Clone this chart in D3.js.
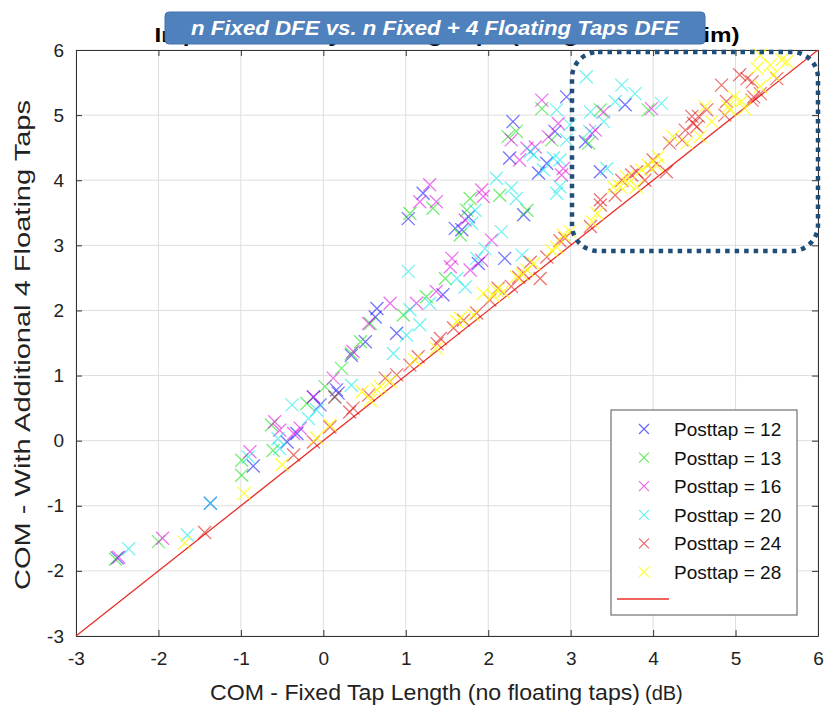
<!DOCTYPE html>
<html>
<head>
<meta charset="utf-8">
<script src="https://cdn.jsdelivr.net/npm/d3@7"></script>
<style>
  body { margin: 0; background: #fff; }
  svg text { font-family: "Liberation Sans", Arial, sans-serif; }
</style>
</head>
<body>
<div id="chart"></div>
<script>
// values: [COM fixed, COM with floating taps]
var posttap12 = [[-2.5,-1.8],[-1.37,-0.96],[-0.85,-0.39],[-0.44,-0.02],[-0.32,0.11],[-0.04,0.55],[0.16,0.78],[0.18,0.73],
  [0.34,1.31],[0.51,1.52],[0.63,1.9],[0.89,1.65],[1.03,3.41],[1.21,3.8],[1.45,2.24],[1.68,3.24],[1.76,3.44],[1.88,2.72],
  [2.2,2.8],[2.26,4.34],[2.3,4.9],[2.43,3.47],[2.61,4.11],[2.71,4.26],[2.81,4.75],[2.95,5.28],[3.18,4.59],[3.36,4.13],
  [3.66,5.16],[-0.12,0.67],[0.65,2.03],[1.6,3.26]];
var posttap13 = [[-2.52,-1.82],[-2.0,-1.55],[-0.99,-0.53],[-0.99,-0.3],[-0.61,-0.15],[-0.63,0.24],[0.02,0.83],[0.22,1.11],
  [0.45,1.52],[0.57,1.8],[0.97,1.93],[1.05,3.49],[1.33,3.57],[1.25,2.21],[1.48,2.49],[1.66,3.16],[1.78,3.72],[1.74,3.54],
  [2.14,3.77],[2.24,4.67],[2.34,4.75],[2.47,3.54],[2.65,5.1],[2.77,4.62],[3.22,4.57],[3.36,5.08],[3.94,5.08],[0.34,1.34],[-0.2,0.57]];
var posttap16 = [[-2.48,-1.79],[-1.95,-1.5],[-0.89,-0.17],[-0.59,0.29],[-0.53,0.16],[-0.28,0.19],[-0.36,0.11],[-0.12,0.67],
  [0.12,0.96],[0.36,1.37],[0.55,1.8],[0.81,2.11],[1.17,3.67],[1.29,3.93],[1.37,3.67],[1.13,2.11],[1.37,2.29],[1.54,2.67],
  [1.56,2.8],[1.72,3.39],[1.92,3.85],[1.94,3.75],[1.92,2.77],[2.04,3.08],[1.78,2.62],[2.28,4.62],[2.38,4.31],[2.47,4.49],
  [2.57,4.51],[2.65,5.23],[2.85,4.87],[2.89,4.08],[3.3,4.77],[3.26,4.72],[3.98,5.1],[3.4,5.05],[2.73,4.67],[2.91,4.18]];
var posttap20 = [[-2.36,-1.66],[-1.65,-1.45],[-1.37,-0.96],[-0.91,-0.25],[-0.55,0.03],[-0.53,-0.12],[-0.38,0.55],[-0.18,0.34],
  [-0.08,0.47],[0.34,0.85],[0.14,0.67],[0.85,1.34],[1.01,1.62],[1.17,1.78],[1.03,2.6],[1.05,2.01],[1.29,2.11],[1.62,2.49],
  [1.72,2.36],[1.86,2.8],[1.96,2.95],[1.8,3.34],[1.84,3.54],[2.16,3.21],[2.41,2.85],[2.1,4.03],[2.28,3.88],[2.34,3.72],
  [2.51,4.44],[2.55,4.39],[2.67,4.16],[2.79,4.34],[2.87,4.31],[2.83,5.08],[2.99,4.85],[2.95,4.62],[3.19,5.59],[3.62,5.46],
  [3.78,5.33],[3.54,5.21],[3.24,5.05],[3.4,4.9],[3.44,4.18],[4.1,5.18],[3.23,4.75],[2.83,3.8],[2.87,3.9]];
var posttap24 = [[-1.44,-1.41],[-0.36,-0.22],[-0.12,-0.02],[0.08,0.21],[0.14,0.67],[0.32,0.44],[0.55,0.7],[0.36,0.5],
  [0.75,0.96],[0.89,1.01],[1.05,1.16],[1.15,1.29],[1.38,1.49],[1.42,1.57],[1.58,1.73],[1.7,1.85],[1.86,1.96],[2.02,2.16],
  [2.12,2.34],[2.28,2.37],[2.37,2.51],[2.43,2.57],[2.63,2.49],[2.51,2.74],[2.71,2.82],[2.87,3.07],[2.93,3.11],[3.24,3.29],
  [3.36,3.7],[3.36,3.62],[3.54,3.77],[3.62,4.0],[3.74,4.08],[3.8,4.13],[3.9,4.0],[3.98,4.18],[4.0,4.31],[4.16,4.13],
  [4.2,4.57],[4.35,4.62],[4.39,4.77],[4.47,4.98],[4.49,4.87],[4.53,4.82],[4.55,4.98],[4.65,5.08],[4.83,5.46],[4.87,5.0],
  [4.89,5.21],[5.05,5.62],[5.14,5.56],[5.2,5.51],[5.2,5.23],[5.22,5.28],[5.3,5.33],[5.5,5.56]];
var posttap28 = [[-1.68,-1.57],[-0.96,-0.81],[-0.5,-0.37],[-0.08,0.04],[0.08,0.24],[0.47,0.75],[0.65,0.78],[0.57,0.62],
  [0.81,0.91],[0.69,0.83],[1.11,1.24],[1.37,1.42],[1.62,1.83],[1.66,1.88],[1.82,1.93],[1.94,2.26],[2.06,2.23],[2.1,2.31],
  [2.18,2.29],[2.34,2.52],[2.41,2.55],[2.47,2.62],[2.55,2.72],[2.77,2.92],[2.83,2.97],[2.91,3.16],[2.99,3.21],[3.26,3.36],
  [3.32,3.49],[3.52,3.9],[3.6,3.9],[3.68,4.05],[3.7,3.95],[3.8,3.9],[3.86,4.16],[3.94,4.23],[4.04,4.23],[4.06,4.36],
  [4.24,4.67],[4.41,4.57],[4.57,4.67],[4.63,5.13],[4.71,4.9],[4.91,5.13],[4.93,5.08],[4.98,5.28],[5.07,5.21],[5.11,5.1],
  [5.26,5.72],[5.3,5.92],[5.3,5.44],[5.42,5.77],[5.46,5.62],[5.56,5.85],[5.62,5.82]];

var seriesNames = ["Posttap = 12","Posttap = 13","Posttap = 16","Posttap = 20","Posttap = 24","Posttap = 28"];
var seriesData = [posttap12, posttap13, posttap16, posttap20, posttap24, posttap28];
var seriesColors = ["#0000ff","#00e000","#e000e0","#00e8e8","#e00000","#ffff00"];
var refLine = [[-3,-3],[6,6]];
var tickValues = [-3,-2,-1,0,1,2,3,4,5,6];

var W = 826, H = 711;
var margin = {top: 50, right: 8, bottom: 75, left: 76};

var svg = d3.select("#chart").append("svg")
    .attr("width", W).attr("height", H);

var x = d3.scaleLinear().domain([-3, 6]).range([margin.left, W - margin.right]);
var y = d3.scaleLinear().domain([-3, 6]).range([H - margin.bottom, margin.top]);

// grid
svg.append("g").selectAll("line.gx").data(tickValues).join("line")
    .attr("x1", d => x(d)).attr("x2", d => x(d))
    .attr("y1", y(-3)).attr("y2", y(6))
    .attr("stroke", "#dedede").attr("stroke-width", 1);
svg.append("g").selectAll("line.gy").data(tickValues).join("line")
    .attr("x1", x(-3)).attr("x2", x(6))
    .attr("y1", d => y(d)).attr("y2", d => y(d))
    .attr("stroke", "#dedede").attr("stroke-width", 1);

// axes, matlab style ticks pointing in
var fmt = d => String(d);  // plain hyphen minus like the original
function styleAxis(g) {
  g.select(".domain").attr("stroke", "#333");
  g.selectAll(".tick line").attr("stroke", "#333");
  g.selectAll(".tick text").attr("fill", "#222").attr("font-size", 19)
    .attr("font-family", "Liberation Sans, Arial, sans-serif");
}
svg.append("g").attr("transform", `translate(0,${y(-3)})`)
    .call(d3.axisBottom(x).tickValues(tickValues).tickSizeInner(-6).tickSizeOuter(0).tickPadding(16).tickFormat(fmt))
    .call(styleAxis);
svg.append("g").attr("transform", `translate(0,${y(6)})`)
    .call(d3.axisTop(x).tickValues(tickValues).tickSizeInner(-6).tickSizeOuter(0).tickFormat(""))
    .call(styleAxis);
svg.append("g").attr("transform", `translate(${x(-3)},0)`)
    .call(d3.axisLeft(y).tickValues(tickValues).tickSizeInner(-6).tickSizeOuter(0).tickPadding(12).tickFormat(fmt))
    .call(styleAxis);
svg.append("g").attr("transform", `translate(${x(6)},0)`)
    .call(d3.axisRight(y).tickValues(tickValues).tickSizeInner(-6).tickSizeOuter(0).tickFormat(""))
    .call(styleAxis);

// y = x reference
var line = d3.line().x(d => x(d[0])).y(d => y(d[1]));
svg.append("path").datum(refLine)
    .attr("d", line).attr("stroke", "#e8302a").attr("stroke-width", 1.3).attr("fill", "none");

// x markers
var s = 6.5;
var xMark = `M${-s},${-s}L${s},${s}M${-s},${s}L${s},${-s}`;
seriesData.forEach(function(pts, i) {
  svg.append("g").selectAll("path").data(pts).join("path")
    .attr("transform", d => `translate(${x(d[0])},${y(d[1])})`)
    .attr("d", xMark)
    .attr("stroke", seriesColors[i])
    .attr("stroke-opacity", i == 5 ? 0.75 : 0.55)
    .attr("stroke-width", 1.3)
    .attr("fill", "none");
});

// legend
var lg = svg.append("g").attr("transform", "translate(611,410)");
lg.append("rect").attr("width", 186).attr("height", 205)
    .attr("fill", "#fff").attr("stroke", "#555").attr("stroke-width", 1);
seriesNames.forEach(function(name, i) {
  var yy = 19 + i * 28.6;
  lg.append("path").attr("transform", `translate(33,${yy})`)
    .attr("d", "M-5,-5L5,5M-5,5L5,-5")
    .attr("stroke", seriesColors[i]).attr("stroke-opacity", i == 5 ? 0.75 : 0.6)
    .attr("stroke-width", 1.2);
  lg.append("text").attr("x", 63).attr("y", yy + 7)
    .attr("font-size", 19).attr("fill", "#111").text(name);
});
lg.append("line").attr("x1", 6).attr("x2", 58).attr("y1", 189).attr("y2", 189)
    .attr("stroke", "#e8302a").attr("stroke-width", 1.3);

// highlight box
svg.append("rect")
    .attr("x", 572).attr("y", 52).attr("width", 246).attr("height", 199)
    .attr("rx", 26).attr("ry", 26)
    .attr("fill", "none").attr("stroke", "#1f4e79")
    .attr("stroke-width", 4.5).attr("stroke-dasharray", "4.5 5");

// axis labels
svg.append("text").attr("x", 210).attr("y", 700)
    .attr("font-size", 22).attr("fill", "#222")
    .attr("textLength", 430).attr("lengthAdjust", "spacingAndGlyphs")
    .text("COM - Fixed Tap Length (no floating taps)");
svg.append("text").attr("x", 645).attr("y", 700)
    .attr("font-size", 20).attr("fill", "#222").attr("font-family", "Open Sans, sans-serif")
    .text("(dB)");
svg.append("text")
    .attr("transform", "translate(30,345) rotate(-90)")
    .attr("text-anchor", "middle").attr("font-size", 22).attr("fill", "#222")
    .attr("textLength", 490).attr("lengthAdjust", "spacingAndGlyphs")
    .text("COM - With Additional 4 Floating Taps");

// original title, mostly covered by the banner
svg.append("text").attr("x", 447).attr("y", 42)
    .attr("text-anchor", "middle").attr("font-size", 20).attr("font-weight", "bold")
    .attr("textLength", 585).attr("lengthAdjust", "spacingAndGlyphs")
    .text("Improvement by Floating Taps (Long Channel Sim)");

// overlay banner
svg.append("rect").attr("x", 165).attr("y", 12).attr("width", 540).attr("height", 32)
    .attr("rx", 4).attr("fill", "#4f81bd").attr("stroke", "#4272ae");
svg.append("text").attr("x", 435).attr("y", 35)
    .attr("text-anchor", "middle").attr("font-size", 21)
    .attr("font-weight", "bold").attr("font-style", "italic")
    .attr("font-family", "Open Sans, sans-serif").attr("fill", "#fff")
    .attr("textLength", 488).attr("lengthAdjust", "spacingAndGlyphs")
    .text("n Fixed DFE vs. n Fixed + 4 Floating Taps DFE");
</script>
</body>
</html>
